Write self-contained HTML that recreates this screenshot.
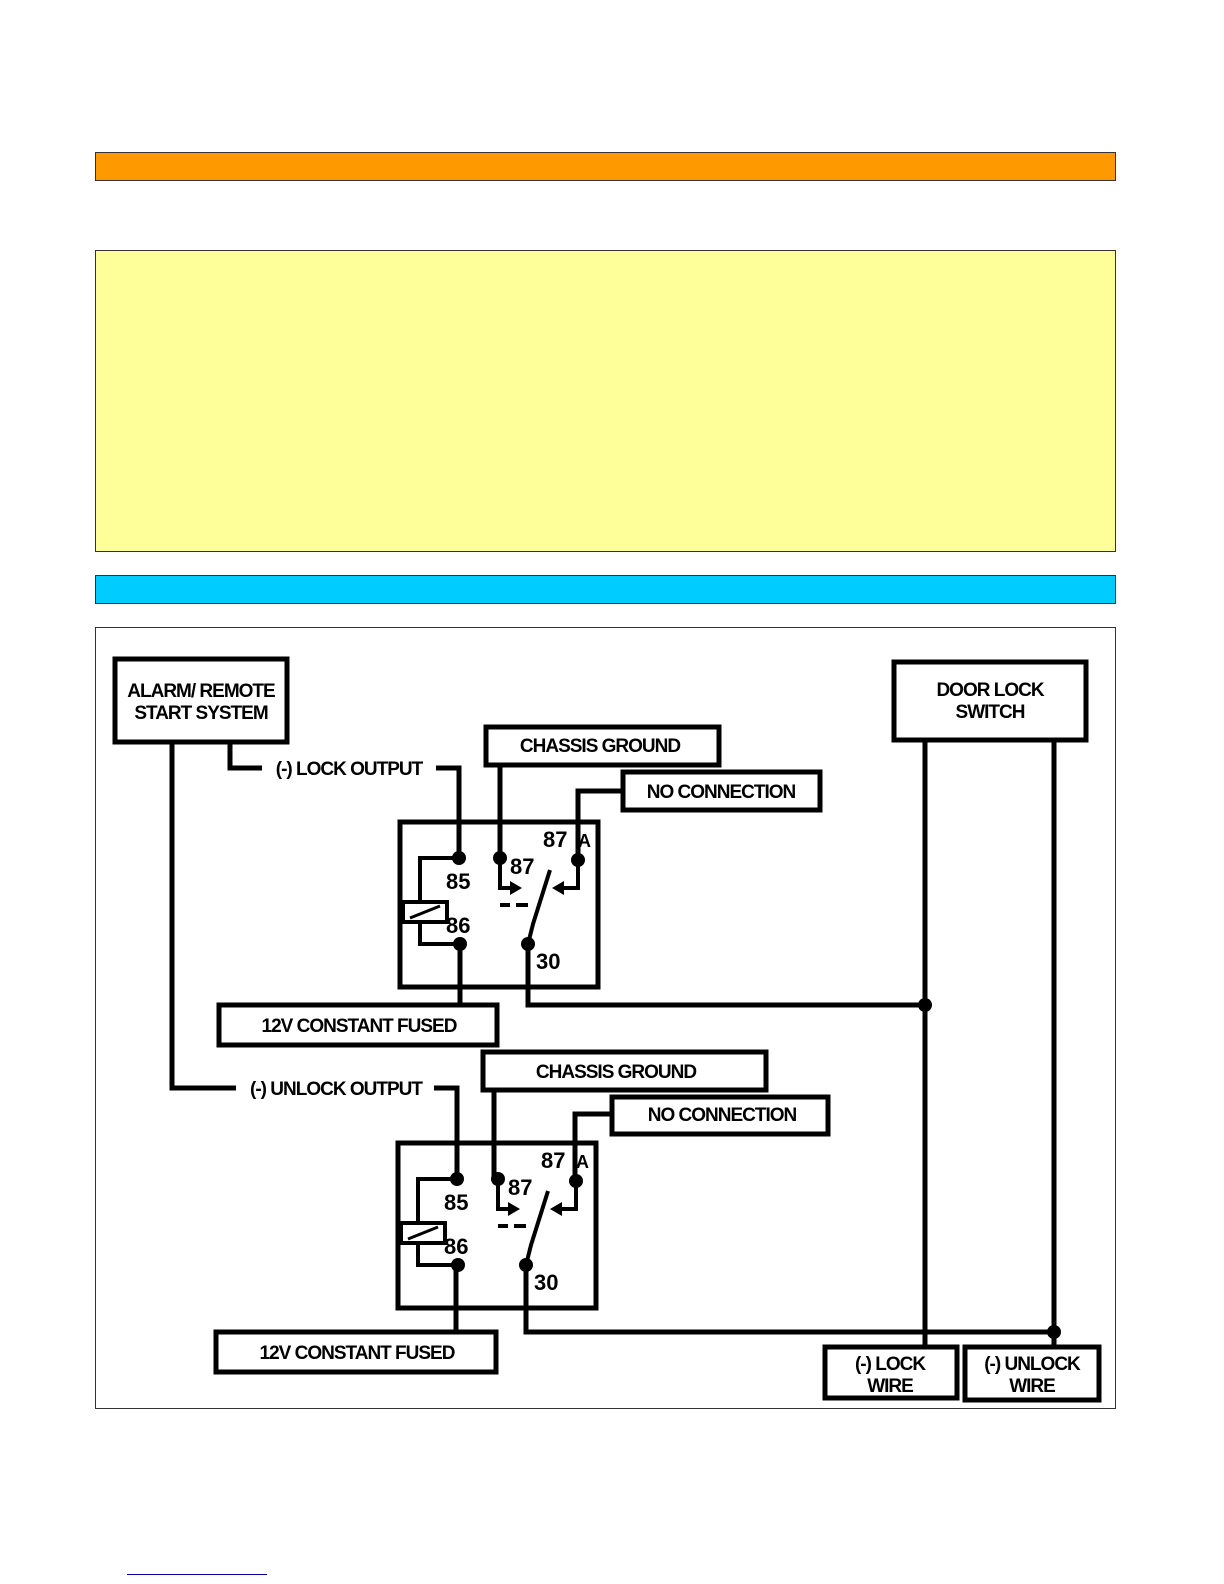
<!DOCTYPE html>
<html><head><meta charset="utf-8"><style>
html,body{margin:0;padding:0;background:#fff;}
body{width:1224px;height:1584px;position:relative;overflow:hidden;font-family:"Liberation Sans",Arial,sans-serif;}
.bar{position:absolute;left:95px;width:1021px;border:1px solid #333;box-sizing:border-box;}
svg text{font-family:"Liberation Sans",Arial,sans-serif;font-weight:bold;}
</style></head><body>
<div class="bar" style="top:152px;height:29px;background:#ff9900;"></div>
<div class="bar" style="top:250px;height:302px;background:#ffff99;"></div>
<div class="bar" style="top:575px;height:29px;background:#00ccff;"></div>
<div class="bar" style="top:627px;height:782px;background:#fff;"></div>
<div style="position:absolute;left:127px;top:1574px;width:140px;height:1px;background:#00008b;"></div>
<svg width="1224" height="1584" style="position:absolute;left:0;top:0" xmlns="http://www.w3.org/2000/svg">
<defs>
<g id="relay">
  <rect x="0" y="0" width="198" height="165" fill="none" stroke="#000" stroke-width="5"/>
  <polyline points="59,36 20,36 20,80" fill="none" stroke="#000" stroke-width="4"/>
  <rect x="3" y="80" width="44" height="20" fill="#fff" stroke="#000" stroke-width="4"/>
  <line x1="10" y1="96" x2="40" y2="84" stroke="#000" stroke-width="3"/>
  <polyline points="20,100 20,122 60,122" fill="none" stroke="#000" stroke-width="4"/>
  <polyline points="100,36 100,66 112,66" fill="none" stroke="#000" stroke-width="4"/>
  <polygon points="110,59 122,66 110,73" fill="#000"/>
  <line x1="100" y1="83" x2="110" y2="83" stroke="#000" stroke-width="4"/>
  <line x1="116" y1="83" x2="128" y2="83" stroke="#000" stroke-width="4"/>
  <polyline points="178,38 178,66 162,66" fill="none" stroke="#000" stroke-width="4"/>
  <polygon points="164,59 152,66 164,73" fill="#000"/>
  <polyline points="128,122 133,102 150,48" fill="none" stroke="#000" stroke-width="4"/>
  <circle cx="59" cy="36" r="7"/><circle cx="100" cy="36" r="7"/><circle cx="178" cy="38" r="7"/>
  <circle cx="60" cy="122" r="7"/><circle cx="128" cy="122" r="7"/>
  <text x="46" y="67" font-size="22">85</text>
  <text x="110" y="52" font-size="22">87</text>
  <text x="143" y="25" font-size="22">87</text>
  <text x="178" y="25" font-size="18">A</text>
  <text x="46" y="111" font-size="22">86</text>
  <text x="136" y="147" font-size="22">30</text>
</g>
</defs>
<g stroke="#000" stroke-width="5" fill="#fff">
  <rect x="115" y="659" width="172" height="83"/>
  <rect x="894" y="662" width="192" height="78"/>
  <rect x="486" y="727" width="233" height="38"/>
  <rect x="623" y="772" width="197" height="38"/>
  <rect x="219" y="1005" width="278" height="40"/>
  <rect x="483" y="1052" width="283" height="38"/>
  <rect x="612" y="1097" width="216" height="37"/>
  <rect x="216" y="1332" width="280" height="40"/>
  <rect x="825" y="1347" width="132" height="51"/>
  <rect x="965" y="1347" width="134" height="53"/>
</g>
<g stroke="#000" stroke-width="5" fill="none">
  <polyline points="230,742 230,768 262,768"/>
  <polyline points="436,768 459,768 459,858"/>
  <polyline points="500,765 500,858"/>
  <polyline points="578,860 578,791 623,791"/>
  <polyline points="460,944 460,1005"/>
  <polyline points="528,944 528,1005 925,1005"/>
  <polyline points="925,740 925,1347"/>
  <polyline points="1054,740 1054,1347"/>
  <polyline points="172,742 172,1088 236,1088"/>
  <polyline points="434,1088 457,1088 457,1179"/>
  <polyline points="494,1090 494,1179"/>
  <polyline points="575,1180 575,1114 612,1114"/>
  <polyline points="456,1265 456,1332"/>
  <polyline points="526,1265 526,1332 1054,1332"/>
</g>
<circle cx="925" cy="1005" r="7"/><circle cx="1054" cy="1332" r="7"/>
<use href="#relay" x="400" y="822"/>
<use href="#relay" x="398" y="1143"/>
<g font-size="19" text-anchor="middle" letter-spacing="-1">
  <text x="201" y="697">ALARM/ REMOTE</text>
  <text x="201" y="719">START SYSTEM</text>
  <text x="990" y="696">DOOR LOCK</text>
  <text x="990" y="718">SWITCH</text>
  <text x="600" y="752">CHASSIS GROUND</text>
  <text x="721" y="798">NO CONNECTION</text>
  <text x="349" y="775">(-) LOCK OUTPUT</text>
  <text x="359" y="1032">12V CONSTANT FUSED</text>
  <text x="616" y="1078">CHASSIS GROUND</text>
  <text x="722" y="1121">NO CONNECTION</text>
  <text x="336" y="1095">(-) UNLOCK OUTPUT</text>
  <text x="357" y="1359">12V CONSTANT FUSED</text>
  <text x="890" y="1370">(-) LOCK</text>
  <text x="890" y="1392">WIRE</text>
  <text x="1032" y="1370">(-) UNLOCK</text>
  <text x="1032" y="1392">WIRE</text>
</g>
</svg>
</body></html>
